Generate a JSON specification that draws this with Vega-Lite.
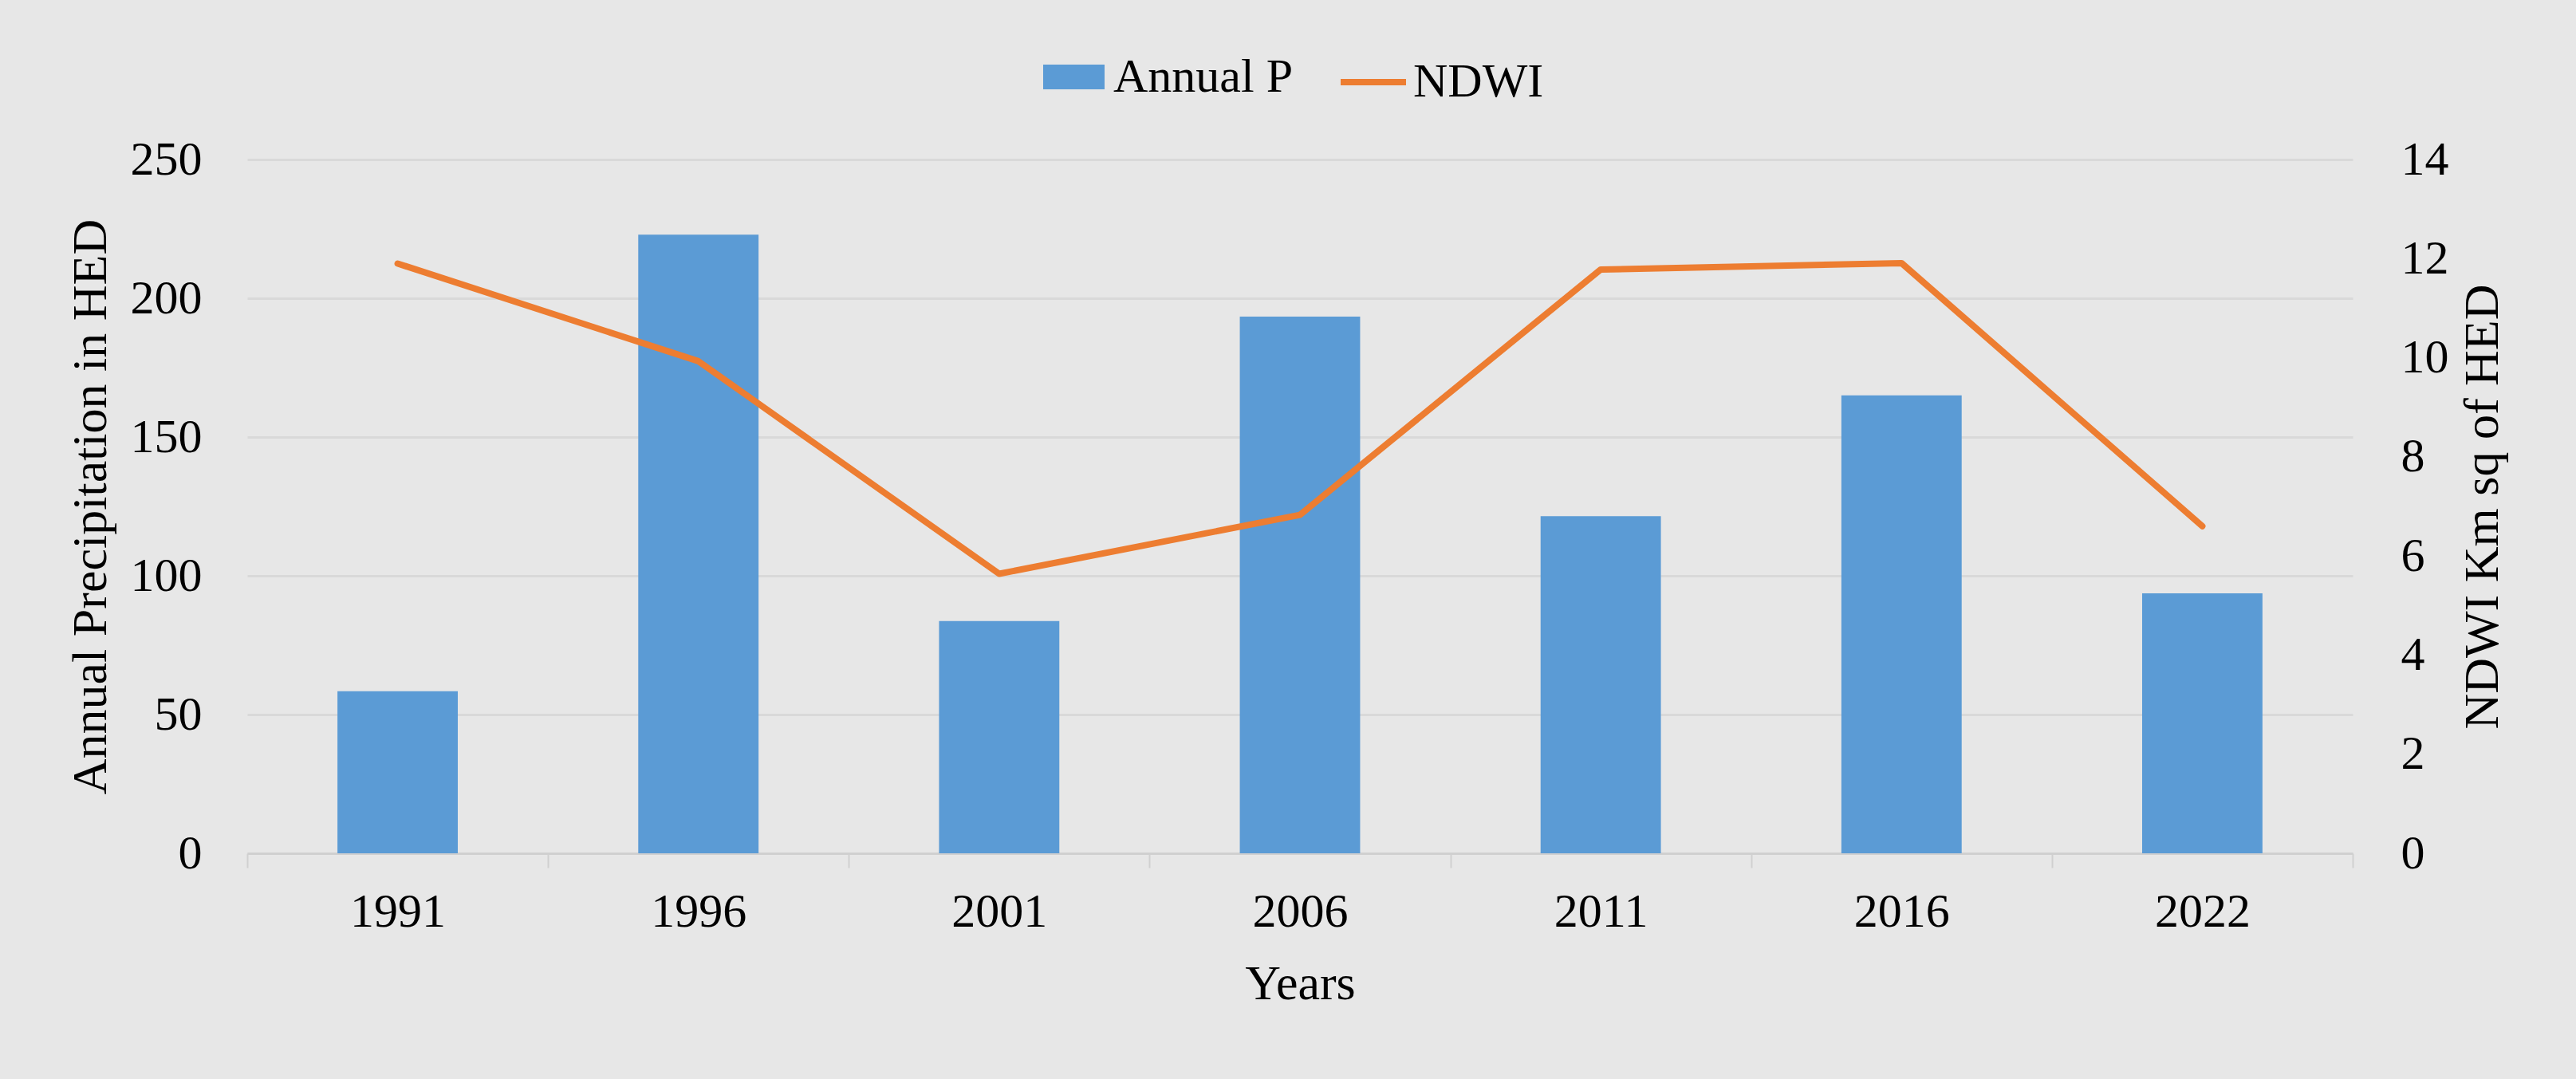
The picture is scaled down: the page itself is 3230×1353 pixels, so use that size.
{
  "$schema": "https://vega.github.io/schema/vega-lite/v6.json",
  "width": 2640,
  "height": 870,
  "autosize": {"type": "none"},
  "padding": {"left": 310, "top": 200, "right": 280, "bottom": 283},
  "background": "#e7e7e7",
  "config": {
    "view": {"stroke": null},
    "font": "Liberation Serif",
    "axis": {
      "labelFont": "Liberation Serif",
      "titleFont": "Liberation Serif",
      "labelFontSize": 60,
      "titleFontSize": 62,
      "titleFontWeight": "normal",
      "labelColor": "#000000",
      "titleColor": "#000000"
    },
    "legend": {
      "labelFont": "Liberation Serif",
      "labelFontSize": 60,
      "labelColor": "#000000",
      "labelLimit": 0
    }
  },
  "data": {
    "values": [
      {"Year": "1991", "P": 58.4, "NDWI": 11.9},
      {"Year": "1996", "P": 222.9, "NDWI": 9.93},
      {"Year": "2001", "P": 83.7, "NDWI": 5.64},
      {"Year": "2006", "P": 193.4, "NDWI": 6.83},
      {"Year": "2011", "P": 121.5, "NDWI": 11.78},
      {"Year": "2016", "P": 165.0, "NDWI": 11.91},
      {"Year": "2022", "P": 93.7, "NDWI": 6.6}
    ]
  },
  "encoding": {
    "x": {
      "field": "Year",
      "type": "ordinal",
      "scale": {"paddingInner": 0, "paddingOuter": 0},
      "axis": {
        "title": "Years",
        "labelAngle": 0,
        "tickBand": "extent",
        "ticks": true,
        "tickSize": 18,
        "tickColor": "#d0d0d0",
        "tickWidth": 2,
        "domainColor": "#d0d0d0",
        "domainWidth": 3,
        "labelPadding": 26,
        "titlePadding": 30,
        "grid": false
      }
    }
  },
  "layer": [
    {
      "mark": {"type": "bar", "width": {"band": 0.4}},
      "encoding": {
        "y": {
          "field": "P",
          "type": "quantitative",
          "scale": {"domain": [0, 250]},
          "axis": {
            "title": "Annual Precipitation in HED",
            "values": [0, 50, 100, 150, 200, 250],
            "grid": true,
            "gridColor": "#d9d9d9",
            "gridWidth": 3,
            "domain": false,
            "ticks": false,
            "labelPadding": 57,
            "titlePadding": 18
          }
        },
        "color": {
          "datum": "Annual P",
          "scale": {"range": ["#5b9bd5"]},
          "legend": {
            "title": null,
            "orient": "none",
            "legendX": 998,
            "legendY": -142,
            "padding": 0,
            "symbolType": "M-1,-0.4H1V0.4H-1Z",
            "symbolSize": 5929,
            "symbolStrokeWidth": 0,
            "labelOffset": 11
          }
        }
      }
    },
    {
      "mark": {"type": "line", "strokeWidth": 8, "strokeCap": "round", "strokeJoin": "round"},
      "encoding": {
        "y": {
          "field": "NDWI",
          "type": "quantitative",
          "scale": {"domain": [0, 14]},
          "axis": {
            "orient": "right",
            "title": "NDWI Km sq of HED",
            "titleAngle": -90,
            "titleBaseline": "top",
            "values": [0, 2, 4, 6, 8, 10, 12, 14],
            "grid": false,
            "domain": false,
            "ticks": false,
            "labelPadding": 60,
            "titlePadding": 12
          }
        },
        "stroke": {
          "datum": "NDWI",
          "scale": {"range": ["#ed7d31"]},
          "legend": {
            "title": null,
            "orient": "none",
            "legendX": 1367,
            "legendY": -142,
            "padding": 0,
            "symbolType": "stroke",
            "symbolSize": 6724,
            "symbolStrokeWidth": 8,
            "labelOffset": 5
          }
        }
      }
    }
  ],
  "resolve": {"scale": {"y": "independent"}}
}
